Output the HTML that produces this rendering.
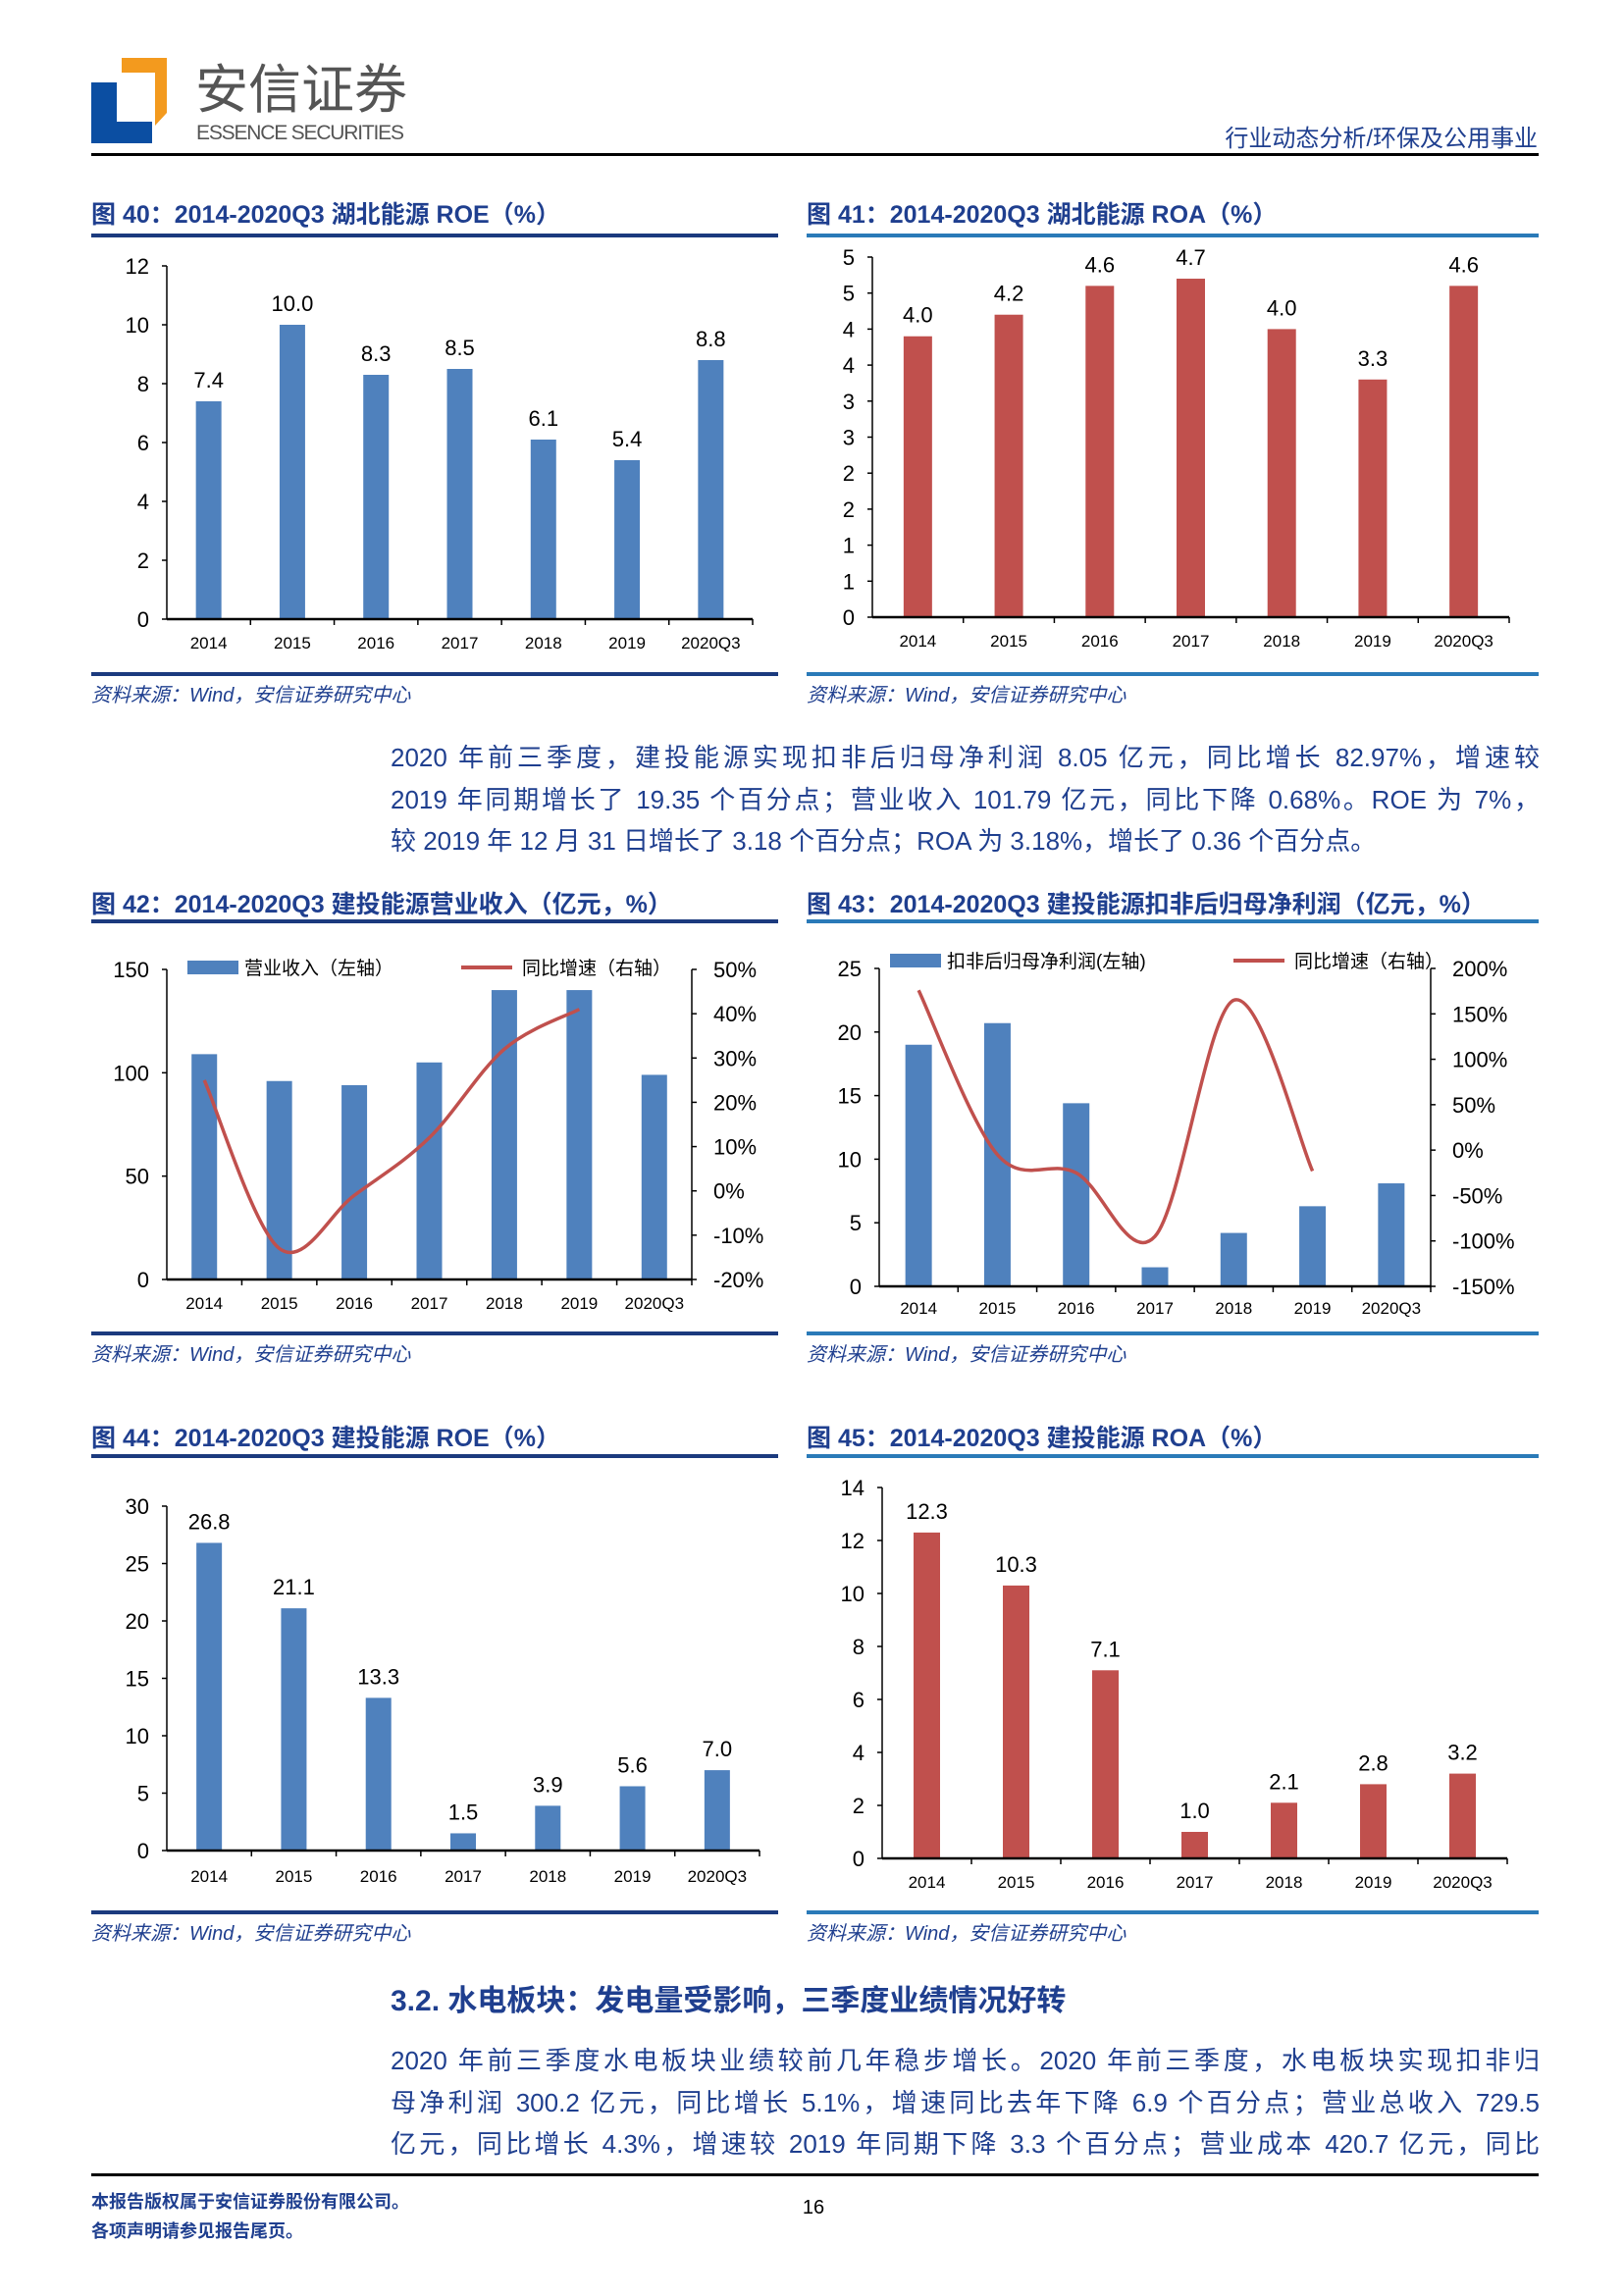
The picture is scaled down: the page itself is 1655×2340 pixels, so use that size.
<!DOCTYPE html>
<html><head><meta charset="utf-8">
<style>
html,body{margin:0;padding:0;background:#fff;}
body{width:1655px;height:2340px;position:relative;overflow:hidden;font-family:"Liberation Sans","Noto Sans CJK SC",sans-serif;}
svg{position:absolute;left:0;top:0;}
.ln{position:absolute;left:398px;width:1171px;color:#1f3f8f;font-size:26px;line-height:34px;height:34px;white-space:nowrap;text-align:justify;text-align-last:justify;font-family:"Liberation Sans","Noto Sans CJK SC",sans-serif;}
.ln.last{text-align:left;text-align-last:left;}
</style></head>
<body>
<svg id="page" width="1655" height="2340" viewBox="0 0 1655 2340" xmlns="http://www.w3.org/2000/svg" font-family="Liberation Sans, Noto Sans CJK SC, sans-serif">
  <g>
    <rect x="93" y="84" width="26" height="62" fill="#0b4ea2"/>
    <rect x="93" y="124" width="62" height="22" fill="#0b4ea2"/>
    <polygon points="124,59 170,59 170,115 158,128 158,74 124,74" fill="#f39a1e"/>
    <text x="199" y="110" font-size="54" fill="#555" font-family="Liberation Sans, Noto Sans CJK SC, sans-serif">安信证券</text>
    <text x="200" y="142" font-size="21" fill="#555" textLength="212">ESSENCE SECURITIES</text>
    <text x="1567" y="149" font-size="24" fill="#1f3f8f" text-anchor="end">行业动态分析/环保及公用事业</text>
    <rect x="93" y="156" width="1475" height="3" fill="#000"/>
  </g>
  <g id="charts"></g>
  <g>
    <text x="398" y="2049" font-size="30" font-weight="bold" fill="#1f3f8f">3.2. 水电板块：发电量受影响，三季度业绩情况好转</text>
  </g>
  <rect x="93" y="2215" width="1475" height="3" fill="#000"/>
  <text x="93" y="2250" font-size="18" font-weight="bold" fill="#1f3f8f">本报告版权属于安信证券股份有限公司。</text>
  <text x="93" y="2280" font-size="18" font-weight="bold" fill="#1f3f8f">各项声明请参见报告尾页。</text>
  <text x="829" y="2256" font-size="20" fill="#000" text-anchor="middle">16</text>
</svg>
<div>
<div class="ln" style="top:755px;">2020 年前三季度，建投能源实现扣非后归母净利润 8.05 亿元，同比增长 82.97%，增速较</div>
<div class="ln" style="top:798px;">2019 年同期增长了 19.35 个百分点；营业收入 101.79 亿元，同比下降 0.68%。ROE 为 7%，</div>
<div class="ln last" style="top:840px;">较 2019 年 12 月 31 日增长了 3.18 个百分点；ROA 为 3.18%，增长了 0.36 个百分点。</div>
</div>
<div>
<div class="ln" style="top:2083px;">2020 年前三季度水电板块业绩较前几年稳步增长。2020 年前三季度，水电板块实现扣非归</div>
<div class="ln" style="top:2126px;">母净利润 300.2 亿元，同比增长 5.1%，增速同比去年下降 6.9 个百分点；营业总收入 729.5</div>
<div class="ln" style="top:2168px;">亿元，同比增长 4.3%，增速较 2019 年同期下降 3.3 个百分点；营业成本 420.7 亿元，同比</div>
</div>
<script>
const categories = ["2014","2015","2016","2017","2018","2019","2020Q3"];
const roeHubei = [7.4,10.0,8.3,8.5,6.1,5.4,8.8];
const roaHubei = [3.9,4.2,4.6,4.7,4.0,3.3,4.6];
const roaHubeiLabels = ["4.0","4.2","4.6","4.7","4.0","3.3","4.6"];
const roaHubeiTickLabels = ["0","1","1","2","2","3","3","4","4","5","5"];
const revenueJT = [109,96,94,105,140,140,99];
const revenueGrowthJT = [25,-13,-1,12,32,41];
const profitJT = [19.0,20.7,14.4,1.5,4.2,6.3,8.1];
const profitGrowthJT = [176,-5,-25,-95,165,-23];
const roeJT = [26.8,21.1,13.3,1.5,3.9,5.6,7.0];
const roaJT = [12.3,10.3,7.1,1.0,2.1,2.8,3.2];

const NS = "http://www.w3.org/2000/svg";
const root = document.getElementById("charts");
function el(tag, attrs, parent, txt){
  const e = document.createElementNS(NS, tag);
  for (const k in attrs) e.setAttribute(k, attrs[k]);
  if (txt !== undefined) e.textContent = txt;
  (parent || root).appendChild(e);
  return e;
}
const BLUE="#4f81bd", RED="#c0504d", NAVY="#1f3f8f";

function frame(p){
  const g = el("g", {});
  
  
  const t = el("text", {x:p.x0, y:p.titleY, "font-size":25, "font-weight":"bold", fill:NAVY}, g, p.title);
  
  
  const r1 = el("rect", {x:p.x0, y:p.ruleY, width:p.w, height:4, fill:p.ruleColor}, g);
  
  
  const r2 = el("rect", {x:p.x0, y:p.srcRuleY, width:p.w, height:4, fill:p.ruleColor}, g);
  
  
  const s = el("text", {x:p.x0, y:p.srcRuleY+30, "font-size":20, "font-style":"italic", fill:NAVY}, g, "资料来源：Wind，安信证券研究中心");
  
  
  return g;
}

function barChart(c){
  const g = c.g;
  const ys = v => c.y0 - (v - c.min)/(c.max - c.min)*(c.y0 - c.y1);
  const band = (c.xEnd - c.ax)/categories.length;
  const cx = i => c.ax + band*(i+0.5);
  const ya = el("line", {x1:c.ax, y1:c.y1, x2:c.ax, y2:c.y0, stroke:"#000", "stroke-width":1.5}, g);
  
  
  c.ticks.forEach((t,i)=>{
    const y = ys(t);
    el("line", {x1:c.ax-5, y1:y, x2:c.ax, y2:y, stroke:"#000", "stroke-width":1.5}, g);
    const tl = el("text", {x:c.ax-18, y:y+8, "font-size":22, "text-anchor":"end", fill:"#000"}, g, c.tickLabels ? c.tickLabels[i] : String(t));
    
    
  });
  categories.forEach((cat,i)=>{
    const v = c.values[i];
    const b = el("rect", {x:cx(i)-c.bw/2, y:ys(v), width:c.bw, height:ys(c.min)-ys(v), fill:c.color}, g);
    
    
    if (c.labels){
      const lb = el("text", {x:cx(i), y:ys(v)-14, "font-size":22, "text-anchor":"middle", fill:"#000"}, g, c.labels[i]);
      
      
    }
    const xl = el("text", {x:cx(i), y:c.xLabelY, "font-size":17, "text-anchor":"middle", fill:"#000"}, g, cat);
    
    
    el("line", {x1:c.ax+band*(i+1), y1:c.y0, x2:c.ax+band*(i+1), y2:c.y0+6, stroke:"#000", "stroke-width":1.5}, g);
  });
  const xa = el("line", {x1:c.ax, y1:c.y0, x2:c.xEnd, y2:c.y0, stroke:"#000", "stroke-width":2.5}, g);
  
  
  return {cx, ys};
}

function smoothPath(pts){
  let d = "M" + pts[0][0] + "," + pts[0][1];
  for (let i=0;i<pts.length-1;i++){
    const p0 = pts[i-1]||pts[i], p1=pts[i], p2=pts[i+1], p3=pts[i+2]||p2;
    const c1=[p1[0]+(p2[0]-p0[0])/6, p1[1]+(p2[1]-p0[1])/6];
    const c2=[p2[0]-(p3[0]-p1[0])/6, p2[1]-(p3[1]-p1[1])/6];
    d += " C"+c1[0]+","+c1[1]+" "+c2[0]+","+c2[1]+" "+p2[0]+","+p2[1];
  }
  return d;
}

function rightAxis(c, g, cx){
  const ys = v => c.y0 - (v - c.min)/(c.max - c.min)*(c.y0 - c.y1);
  const ra = el("line", {x1:c.rx, y1:c.y1, x2:c.rx, y2:c.y0, stroke:"#000", "stroke-width":1.5}, g);
  
  
  c.ticks.forEach(t=>{
    const y = ys(t);
    el("line", {x1:c.rx, y1:y, x2:c.rx+5, y2:y, stroke:"#000", "stroke-width":1.5}, g);
    const tl = el("text", {x:c.rx+22, y:y+8, "font-size":22, fill:"#000"}, g, t+"%");
    
    
  });
  const pts = c.values.map((v,i)=>[cx(i), ys(v)]);
  const line = el("path", {d:smoothPath(pts), fill:"none", stroke:RED, "stroke-width":3.5}, g);
  
  
}

function legend(g, x, y, t1, lx, t2){
  const a = el("rect", {x:x, y:y-7, width:52, height:14, fill:BLUE}, g);
  
  
  const at = el("text", {x:x+58, y:y+7, "font-size":19, fill:"#000"}, g, t1);
  
  
  const b = el("line", {x1:lx, y1:y, x2:lx+52, y2:y, stroke:RED, "stroke-width":4}, g);
  
  
  const bt = el("text", {x:lx+62, y:y+7, "font-size":19, fill:"#000"}, g, t2);
  
  
}

let g = frame({name:"chart-fig40", x0:93, w:700, titleY:227, ruleY:238, srcRuleY:685, ruleColor:"#1b3a7e", title:"图 40：2014-2020Q3 湖北能源 ROE（%）"});
barChart({g, ax:170, xEnd:767, y0:631, y1:271, min:0, max:12, ticks:[0,2,4,6,8,10,12], values:roeHubei, labels:roeHubei.map(v=>v.toFixed(1)), color:BLUE, bw:26, xLabelY:661});
g = frame({name:"chart-fig41", x0:822, w:746, titleY:227, ruleY:238, srcRuleY:685, ruleColor:"#2a7ab8", title:"图 41：2014-2020Q3 湖北能源 ROA（%）"});
barChart({g, ax:889, xEnd:1538, y0:629, y1:262, min:0, max:5, ticks:[0,0.5,1,1.5,2,2.5,3,3.5,4,4.5,5], tickLabels:roaHubeiTickLabels, values:roaHubei, labels:roaHubeiLabels, color:RED, bw:29, xLabelY:659});
g = frame({name:"chart-fig42", x0:93, w:700, titleY:930, ruleY:937, srcRuleY:1357, ruleColor:"#1b3a7e", title:"图 42：2014-2020Q3 建投能源营业收入（亿元，%）"});
let r = barChart({g, ax:170, xEnd:705, y0:1304, y1:988, min:0, max:150, ticks:[0,50,100,150], values:revenueJT, color:BLUE, bw:26, xLabelY:1334});
rightAxis({rx:705, y0:1304, y1:988, min:-20, max:50, ticks:[-20,-10,0,10,20,30,40,50], values:revenueGrowthJT}, g, r.cx);
legend(g, 191, 986, "营业收入（左轴）", 470, "同比增速（右轴）");
g = frame({name:"chart-fig43", x0:822, w:746, titleY:930, ruleY:937, srcRuleY:1357, ruleColor:"#2a7ab8", title:"图 43：2014-2020Q3 建投能源扣非后归母净利润（亿元，%）"});
r = barChart({g, ax:896, xEnd:1458, y0:1311, y1:987, min:0, max:25, ticks:[0,5,10,15,20,25], values:profitJT, color:BLUE, bw:27, xLabelY:1339});
rightAxis({rx:1458, y0:1311, y1:987, min:-150, max:200, ticks:[-150,-100,-50,0,50,100,150,200], values:profitGrowthJT}, g, r.cx);
legend(g, 907, 979, "扣非后归母净利润(左轴)", 1257, "同比增速（右轴）");
g = frame({name:"chart-fig44", x0:93, w:700, titleY:1474, ruleY:1482, srcRuleY:1947, ruleColor:"#1b3a7e", title:"图 44：2014-2020Q3 建投能源 ROE（%）"});
barChart({g, ax:170, xEnd:774, y0:1886, y1:1535, min:0, max:30, ticks:[0,5,10,15,20,25,30], values:roeJT, labels:roeJT.map(v=>v.toFixed(1)), color:BLUE, bw:26, xLabelY:1918});
g = frame({name:"chart-fig45", x0:822, w:746, titleY:1474, ruleY:1482, srcRuleY:1947, ruleColor:"#2a7ab8", title:"图 45：2014-2020Q3 建投能源 ROA（%）"});
barChart({g, ax:899, xEnd:1536, y0:1894, y1:1516, min:0, max:14, ticks:[0,2,4,6,8,10,12,14], values:roaJT, labels:roaJT.map(v=>v.toFixed(1)), color:RED, bw:27, xLabelY:1924});
</script>
</body></html>
